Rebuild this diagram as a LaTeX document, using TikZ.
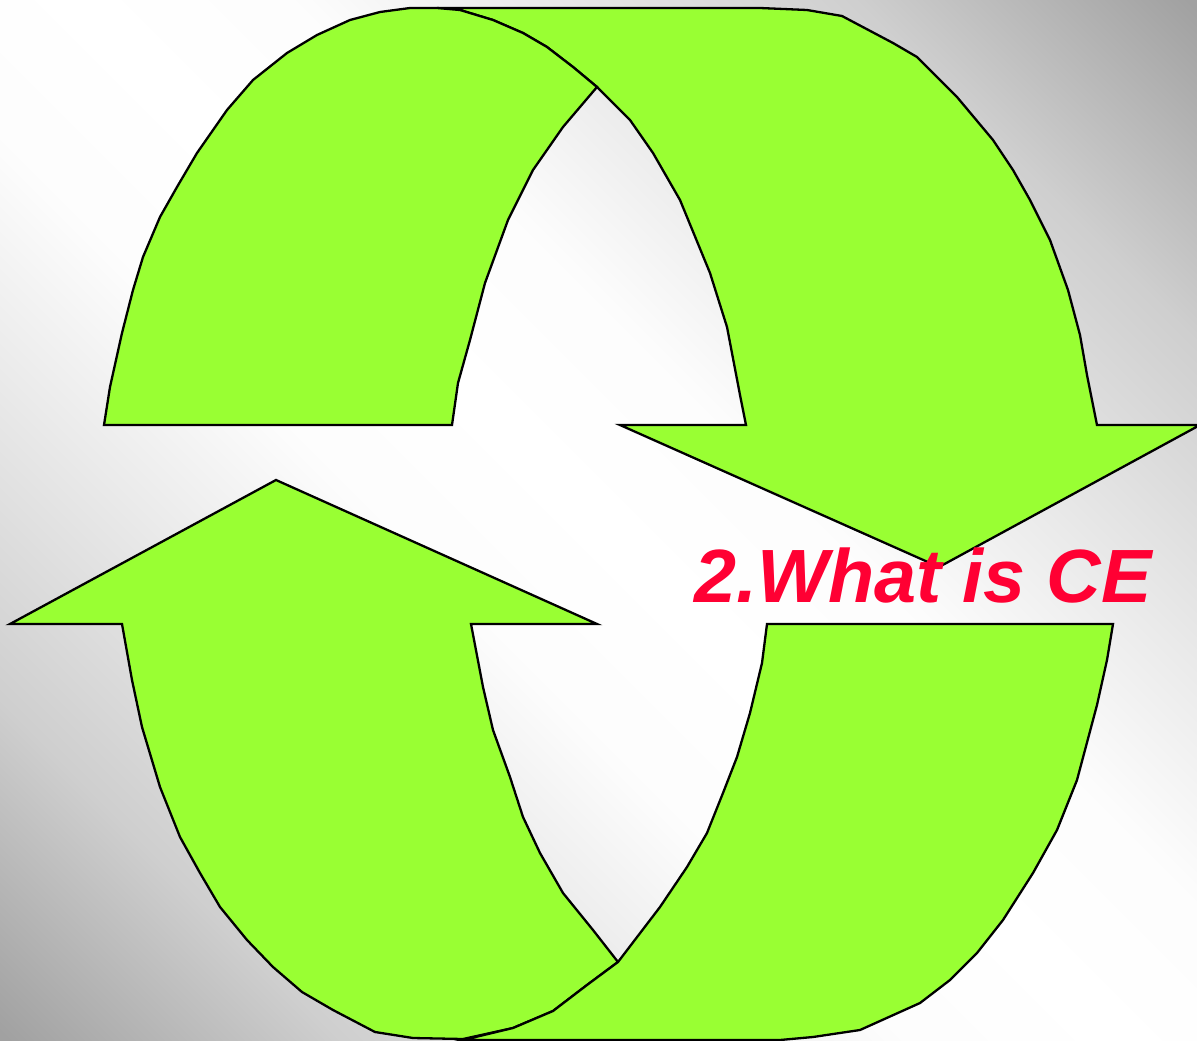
\documentclass[tikz,border=0pt]{standalone}
\usepackage{fontspec}
\setmainfont{Liberation Sans}
\definecolor{arrowgreen}{RGB}{153,255,51}
\definecolor{titlered}{RGB}{255,0,51}
\definecolor{bgA}{gray}{0.63}
\definecolor{bgB}{gray}{0.81}
\definecolor{bgC}{gray}{0.92}
\definecolor{bgD}{gray}{0.99}
\pgfdeclarehorizontalshading{bgshade}{100bp}{color(0bp)=(bgA); color(14.64bp)=(bgA); color(25.25bp)=(bgB); color(35.86bp)=(bgC); color(42.93bp)=(bgD); color(50bp)=(white); color(57.07bp)=(bgD); color(64.14bp)=(bgC); color(74.75bp)=(bgB); color(85.36bp)=(bgA); color(100bp)=(bgA)}
\begin{document}
\begin{tikzpicture}[x=1pt,y=-1pt,
  band/.style={fill=arrowgreen, draw=black, line width=2.3pt},
  titletext/.style={text=titlered, font=\bfseries\itshape\fontsize{75.5}{75.5}\selectfont, inner sep=0pt}]
\useasboundingbox (0,0) rectangle (1197,1041);
\shade[shading=bgshade, shading angle=45] (0,0) rectangle (1197,1041);
\begin{scope}
\clip (0,0) rectangle (1197,1041);
% ---- upper arrow: right band (behind) ----
\draw[band] (437,8) -- (760,8) -- (807,10) -- (842,16) -- (893,43) -- (917,57) -- (957,97)
  -- (993,140) -- (1013,170) -- (1030,200) -- (1050,240) -- (1068,290) -- (1080,335)
  -- (1087,375) -- (1097,425) -- (1200,425) -- (939,567) -- (620,425) -- (746,425)
  -- (740,395) -- (727,327) -- (710,273) -- (680,200) -- (653,153) -- (630,120) -- (597,87)
  -- (573,67) -- (547,47) -- (523,33) -- (493,20) -- (460,10) -- cycle;
% ---- upper arrow: left band (front) ----
\draw[band] (104,425) -- (110,387) -- (122,333) -- (133,290) -- (143,257) -- (160,217)
  -- (177,187) -- (197,153) -- (227,110) -- (253,80) -- (287,53) -- (317,35) -- (350,20)
  -- (380,12) -- (410,8) -- (437,8) -- (460,10) -- (493,20) -- (523,33) -- (547,47)
  -- (573,67) -- (597,87) -- (563,127) -- (533,170) -- (508,220) -- (485,283) -- (470,340)
  -- (458,383) -- (452,425) -- cycle;
% ---- lower arrow: left band (behind) ----
\draw[band] (10,624) -- (276,480) -- (597,624) -- (471,624) -- (483,687) -- (493,730)
  -- (510,777) -- (523,817) -- (540,853) -- (563,893) -- (593,930) -- (618,962)
  -- (587,985) -- (553,1011) -- (513,1028) -- (463,1039) -- (413,1038) -- (375,1032)
  -- (333,1010) -- (302,992) -- (273,967) -- (247,940) -- (220,907) -- (200,873)
  -- (180,837) -- (160,787) -- (142,727) -- (132,680) -- (122,624) -- cycle;
% ---- lower arrow: right band (front) ----
\draw[band] (767,624) -- (1113,624) -- (1107,660) -- (1097,705) -- (1085,750) -- (1077,780)
  -- (1057,830) -- (1033,873) -- (1003,920) -- (977,953) -- (950,980) -- (920,1003)
  -- (900,1012) -- (860,1030) -- (813,1037) -- (780,1040) -- (463,1040) -- (513,1028)
  -- (553,1011) -- (587,985) -- (618,962) -- (660,907) -- (687,867) -- (707,833)
  -- (723,793) -- (737,757) -- (750,713) -- (762,663) -- cycle;
\end{scope}
\node[titletext, anchor=base west] (title) at (694,602) {2.What is CE};
\end{tikzpicture}
\end{document}
